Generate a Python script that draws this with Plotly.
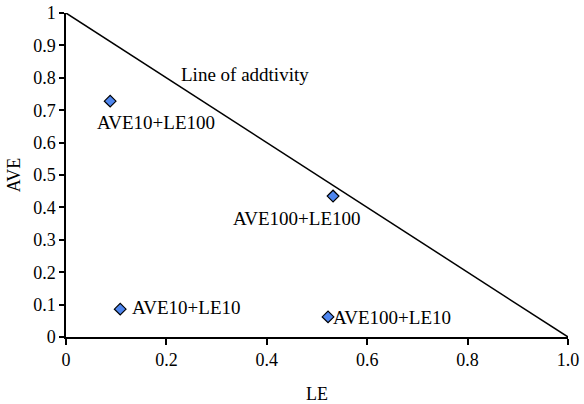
import plotly.graph_objects as go

le = [0.088, 0.532, 0.108, 0.522]
ave = [0.728, 0.435, 0.086, 0.062]
names = ["AVE10+LE100", "AVE100+LE100", "AVE10+LE10", "AVE100+LE10"]
line_x = [0, 1]
line_y = [1, 0]
x_ticks = [0, 0.2, 0.4, 0.6, 0.8, 1.0]
x_tick_text = ["0", "0.2", "0.4", "0.6", "0.8", "1.0"]
y_ticks = [0, 0.1, 0.2, 0.3, 0.4, 0.5, 0.6, 0.7, 0.8, 0.9, 1.0]
y_tick_text = ["0", "0.1", "0.2", "0.3", "0.4", "0.5", "0.6", "0.7", "0.8", "0.9", "1"]

font = "Liberation Serif, Times New Roman, serif"

fig = go.Figure()
fig.add_trace(go.Scatter(x=line_x, y=line_y, mode="lines",
                         line=dict(color="black", width=1.5), showlegend=False, hoverinfo="skip"))
fig.add_trace(go.Scatter(x=le, y=ave, mode="markers",
                         marker=dict(symbol="diamond", size=9, color="#4F86EE",
                                     line=dict(color="black", width=1.2)),
                         showlegend=False))

ann = [
    dict(x=le[0], y=ave[0], text=names[0], xanchor="center", yanchor="top", xshift=46, yshift=-9),
    dict(x=le[1], y=ave[1], text=names[1], xanchor="center", yanchor="top", xshift=-36, yshift=-10),
    dict(x=le[2], y=ave[2], text=names[2], xanchor="left", yanchor="middle", xshift=10, yshift=2),
    dict(x=le[3], y=ave[3], text=names[3], xanchor="left", yanchor="middle", xshift=3, yshift=-1),
    dict(x=0.357, y=0.81, text="Line of addtivity", xanchor="center", yanchor="middle"),
]
for a in ann:
    a.update(xref="x", yref="y", showarrow=False, font=dict(family=font, size=19, color="black"))
    fig.add_annotation(**a)

fig.update_layout(
    width=584, height=404,
    margin=dict(l=66, r=16, t=13, b=67),
    paper_bgcolor="white", plot_bgcolor="white",
    font=dict(family=font, size=18, color="black"),
)
fig.update_xaxes(range=[0, 1], tickvals=x_ticks, ticktext=x_tick_text, automargin=False,
                 showline=True, linecolor="black", linewidth=1.5, ticks="outside",
                 ticklen=6, tickwidth=1.5, tickcolor="black", showgrid=False, zeroline=False,
                 tickfont=dict(family=font, size=18),
                 title=dict(text="LE", standoff=18, font=dict(family=font, size=18)))
fig.update_yaxes(range=[0, 1], tickvals=y_ticks, ticktext=y_tick_text, automargin=False,
                 showline=True, linecolor="black", linewidth=1.5, ticks="outside",
                 ticklen=5, tickwidth=1.5, tickcolor="black", showgrid=False, zeroline=False,
                 tickfont=dict(family=font, size=18),
                 title=dict(text="AVE", standoff=8, font=dict(family=font, size=18)))

fig.write_html("out.html", config={"displayModeBar": False},
               post_script="document.body.style.margin='0';document.body.style.overflow='hidden';")
